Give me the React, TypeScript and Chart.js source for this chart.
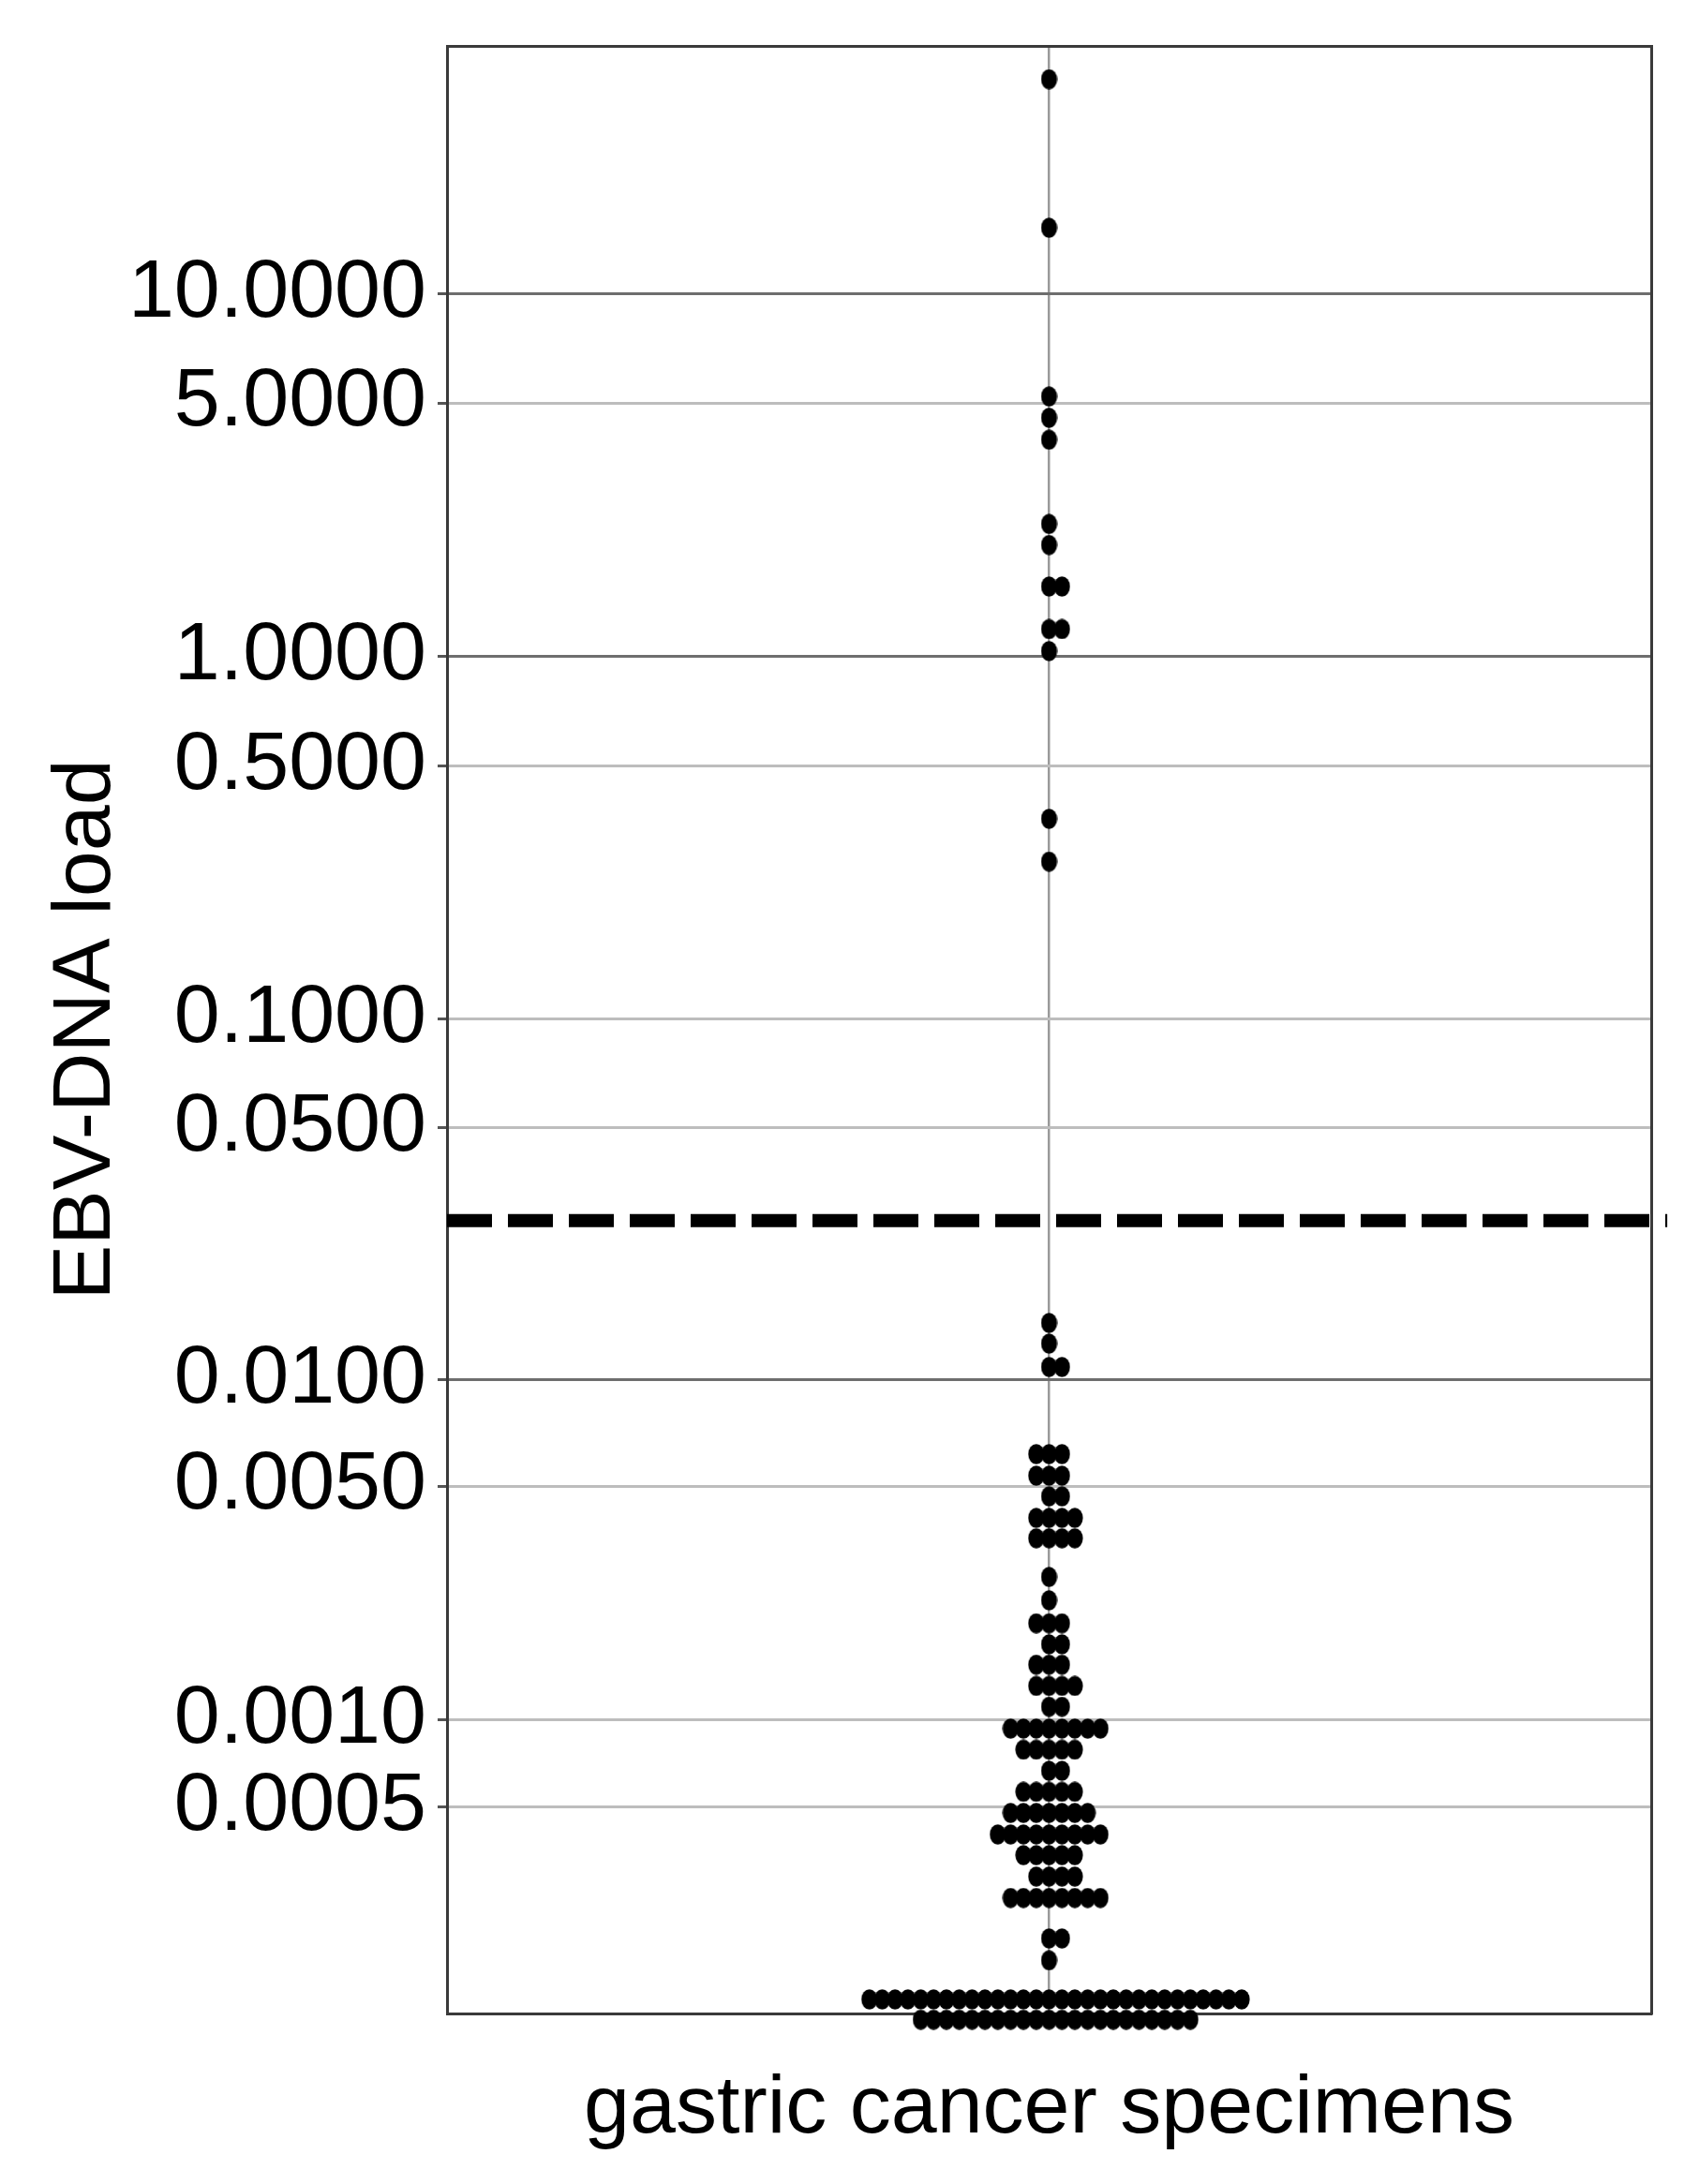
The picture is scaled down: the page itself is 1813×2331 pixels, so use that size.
import React, { useEffect, useRef } from "react";
import { Chart, registerables } from "chart.js";

Chart.register(...registerables);

// ---------- data ----------
const xCategory = "gastric cancer specimens";
const yTitle = "EBV-DNA load";
const yTickValues = [10, 5, 1, 0.5, 0.1, 0.05, 0.01, 0.005, 0.001, 0.0005];
const yTickLabels = ["10.0000", "5.0000", "1.0000", "0.5000", "0.1000", "0.0500", "0.0100", "0.0050", "0.0010", "0.0005"];
const yMajorTicks = [10, 1, 0.01];

// each row of the dot plot: a load value and how many specimens share it
const rowValues = [
  39.0, 15.2, 5.21, 4.55, 3.96, 2.32, 2.03, 1.56, 1.19, 1.035, 0.357, 0.272,
  0.01439, 0.0126, 0.01084, 0.00616, 0.00535, 0.00467, 0.00405, 0.00354,
  0.00273, 0.00233, 0.00199, 0.00172, 0.00149, 0.00128, 0.0011, 0.000935,
  0.000796, 0.000674, 0.000568, 0.000475, 0.000392, 0.000322, 0.000259,
  0.000204, 0.000118, 0.00008, 0.000024, 0,
];
const rowCounts = [
  1, 1, 1, 1, 1, 1, 1, 2, 2, 1, 1, 1,
  1, 1, 2, 3, 3, 2, 4, 4,
  1, 1, 3, 2, 3, 4, 2, 8,
  5, 2, 5, 7, 9, 5, 4,
  8, 2, 1, 30, 22,
];
const cutoff = 0.0277;
const yMin = 0.000007;
const yMax = 48.2;
const pseudoLogOffset = 0.000175;

// ---------- helpers ----------
const tf = (v: number) => Math.log10(v + pseudoLogOffset);
const xMin = -46.9;
const xMax = 46.9;
const xLineEnd = 48.15;

function buildPoints() {
  const pts: { x: number; y: number }[] = [];
  rowValues.forEach((v, i) => {
    const n = rowCounts[i];
    const start = -Math.floor((n - 1) / 2);
    for (let k = 0; k < n; k++) pts.push({ x: start + k, y: tf(v) });
  });
  return pts;
}

function makeDot() {
  const c = document.createElement("canvas");
  c.width = 18;
  c.height = 22;
  const g = c.getContext("2d")!;
  g.fillStyle = "#000";
  g.beginPath();
  g.ellipse(9, 11, 8.6, 10.8, 0, 0, Math.PI * 2);
  g.fill();
  return c;
}

export default function App() {
  const ref = useRef<HTMLCanvasElement>(null);
  useEffect(() => {
    Chart.defaults.font.family = "'Liberation Sans', Arial, sans-serif";
    const dot = makeDot();
    const borderOpts = { display: true, color: "#3a3a3a", width: 3 };
    const chart = new Chart(ref.current!, {
      type: "scatter",
      data: {
        datasets: [
          {
            type: "line",
            data: [
              { x: xMin, y: tf(cutoff) },
              { x: xLineEnd, y: tf(cutoff) },
            ],
            borderColor: "#000",
            borderWidth: 14,
            borderDash: [48, 17],
            borderCapStyle: "butt",
            pointRadius: 0,
            clip: false,
            xAxisID: "x",
            yAxisID: "y",
          } as any,
          {
            data: buildPoints(),
            pointStyle: dot as any,
            pointRadius: 9,
            backgroundColor: "#000",
            borderWidth: 0,
            clip: false,
            xAxisID: "x",
            yAxisID: "y",
          } as any,
        ],
      },
      options: {
        animation: false,
        responsive: false,
        devicePixelRatio: 1,
        layout: { padding: { top: 49, right: 51, left: 0, bottom: 0 } },
        plugins: { legend: { display: false }, tooltip: { enabled: false } },
        events: [],
        scales: {
          x: {
            type: "linear",
            position: "bottom",
            min: xMin,
            max: xMax,
            afterBuildTicks: (s: any) => {
              s.ticks = [{ value: 0 }];
            },
            afterFit: (s: any) => {
              s.height = 182;
              s.paddingLeft = 0;
              s.paddingRight = 0;
            },
            grid: { color: "#9a9a9a", lineWidth: 2.5, drawTicks: false },
            border: borderOpts,
            ticks: {
              callback: () => xCategory,
              color: "#000",
              font: { size: 88 },
              padding: 50,
              maxRotation: 0,
              autoSkip: false,
            },
          },
          y: {
            type: "linear",
            position: "left",
            min: tf(yMin),
            max: tf(yMax),
            afterBuildTicks: (s: any) => {
              s.ticks = yTickValues.map((v) => ({ value: tf(v) }));
            },
            afterFit: (s: any) => {
              s.width = 477;
              s.paddingTop = 0;
              s.paddingBottom = 0;
            },
            grid: {
              color: (ctx: any) =>
                yMajorTicks.includes(yTickValues[ctx.index]) ? "#6e6e6e" : "#bdbdbd",
              lineWidth: 3,
              tickLength: 10,
              tickColor: "#555",
            },
            border: borderOpts,
            ticks: {
              callback: (_v: any, i: number) => yTickLabels[i],
              color: "#000",
              font: { size: 88 },
              padding: 12,
              autoSkip: false,
            },
            title: {
              display: true,
              text: yTitle,
              color: "#000",
              font: { size: 88 },
              padding: { top: 40, bottom: 0 },
            },
          },
          xTop: {
            type: "linear",
            position: "top",
            min: xMin,
            max: xMax,
            ticks: { display: false },
            grid: { display: false, drawTicks: false },
            border: borderOpts,
            afterFit: (s: any) => {
              s.height = 0;
              s.paddingLeft = 0;
              s.paddingRight = 0;
            },
          },
          yRight: {
            type: "linear",
            position: "right",
            min: 0,
            max: 1,
            ticks: { display: false },
            grid: { display: false, drawTicks: false },
            border: borderOpts,
            afterFit: (s: any) => {
              s.width = 0;
              s.paddingTop = 0;
              s.paddingBottom = 0;
            },
          },
        },
      } as any,
    });
    return () => chart.destroy();
  }, []);
  return (
    <div style={{ position: "absolute", left: 0, top: 0, width: 1813, height: 2331, background: "#fff" }}>
      <canvas ref={ref} width={1813} height={2331} style={{ display: "block", width: 1813, height: 2331 }} />
    </div>
  );
}
